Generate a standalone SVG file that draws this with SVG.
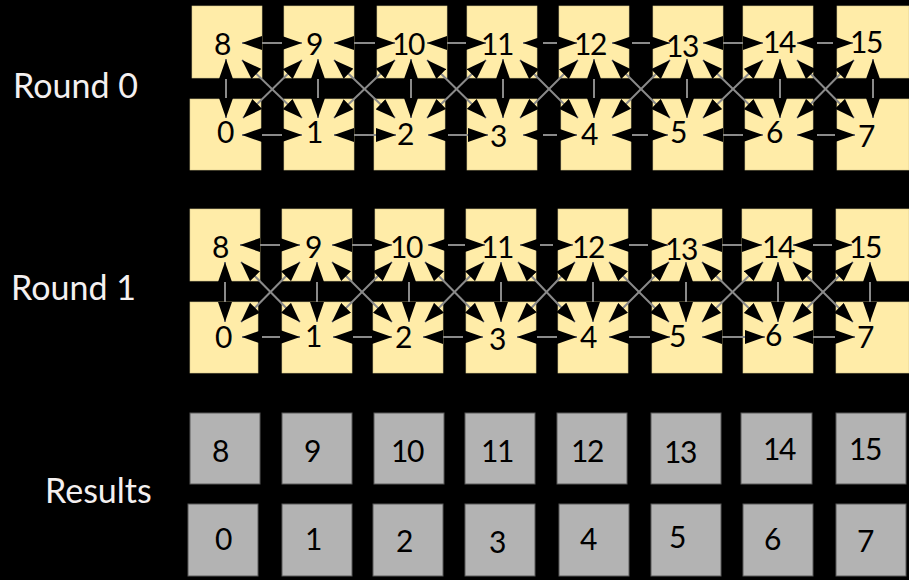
<svg xmlns="http://www.w3.org/2000/svg" width="909" height="580" viewBox="0 0 909 580">
<defs>
<style>
.y{fill:#FFECA8;stroke:#d8c98e;stroke-width:0.6}
.g{fill:#B3B3B3;stroke:#5a5a5a;stroke-width:1}
.n{font-family:Lato,"Liberation Sans",sans-serif;font-size:30px;fill:#000;text-anchor:middle;letter-spacing:-1.5px}
.lab{font-family:Lato,"Liberation Sans",sans-serif;font-size:34px;fill:#F4F0F0}
.c line{stroke:#8a8a8a;stroke-width:2;marker-start:url(#ah);marker-end:url(#ah)}
</style>
<marker id="ah" viewBox="0 0 20 14" refX="20" refY="7" markerWidth="20" markerHeight="14" markerUnits="userSpaceOnUse" orient="auto-start-reverse">
<path d="M0,0 L20,7 L0,14 Z" fill="#000"/>
</marker>
</defs>
<rect width="909" height="580" fill="#000"/>

<g id="labels">
<text class="lab" x="13" y="98">Round 0</text>
<text class="lab" x="11" y="300">Round 1</text>
<text class="lab" x="45" y="503">Results</text>
</g>

<!-- Round 0 -->
<g id="r0-8"><rect class="y" x="192" y="6" width="70" height="72"/><text class="n" x="222" y="55">8</text></g>
<g id="r0-9"><rect class="y" x="284" y="6" width="70" height="72"/><text class="n" x="314" y="55">9</text></g>
<g id="r0-10"><rect class="y" x="377" y="6" width="70" height="72"/><text class="n" x="408" y="55">10</text></g>
<g id="r0-11"><rect class="y" x="467" y="6" width="70" height="72"/><text class="n" x="497" y="55">11</text></g>
<g id="r0-12"><rect class="y" x="559" y="6" width="70" height="72"/><text class="n" x="590" y="55">12</text></g>
<g id="r0-13"><rect class="y" x="653" y="6" width="70" height="72"/><text class="n" x="682" y="57">13</text></g>
<g id="r0-14"><rect class="y" x="743" y="6" width="70" height="72"/><text class="n" x="779" y="53">14</text></g>
<g id="r0-15"><rect class="y" x="837" y="6" width="72" height="72"/><text class="n" x="866" y="53">15</text></g>
<g id="r0-0"><rect class="y" x="190" y="99" width="71" height="71"/><text class="n" x="225" y="143">0</text></g>
<g id="r0-1"><rect class="y" x="284" y="99" width="70" height="71"/><text class="n" x="314" y="143">1</text></g>
<g id="r0-2"><rect class="y" x="374" y="99" width="71" height="71"/><text class="n" x="405" y="145">2</text></g>
<g id="r0-3"><rect class="y" x="467" y="99" width="70" height="71"/><text class="n" x="498" y="147">3</text></g>
<g id="r0-4"><rect class="y" x="561" y="99" width="70" height="71"/><text class="n" x="589" y="145">4</text></g>
<g id="r0-5"><rect class="y" x="653" y="99" width="70" height="71"/><text class="n" x="678" y="143">5</text></g>
<g id="r0-6"><rect class="y" x="745" y="99" width="68" height="71"/><text class="n" x="774" y="143">6</text></g>
<g id="r0-7"><rect class="y" x="837" y="99" width="72" height="71"/><text class="n" x="866" y="147">7</text></g>

<!-- Round 1 -->
<g id="r1-8"><rect class="y" x="190" y="209" width="70" height="72"/><text class="n" x="220" y="258">8</text></g>
<g id="r1-9"><rect class="y" x="282" y="209" width="70" height="72"/><text class="n" x="313" y="258">9</text></g>
<g id="r1-10"><rect class="y" x="375" y="209" width="69" height="72"/><text class="n" x="406" y="258">10</text></g>
<g id="r1-11"><rect class="y" x="466" y="209" width="70" height="72"/><text class="n" x="497" y="258">11</text></g>
<g id="r1-12"><rect class="y" x="558" y="209" width="70" height="72"/><text class="n" x="588" y="258">12</text></g>
<g id="r1-13"><rect class="y" x="652" y="209" width="70" height="72"/><text class="n" x="681" y="260">13</text></g>
<g id="r1-14"><rect class="y" x="742" y="209" width="70" height="72"/><text class="n" x="778" y="258">14</text></g>
<g id="r1-15"><rect class="y" x="836" y="209" width="73" height="72"/><text class="n" x="865" y="258">15</text></g>
<g id="r1-0"><rect class="y" x="190" y="302" width="68" height="71"/><text class="n" x="223" y="348">0</text></g>
<g id="r1-1"><rect class="y" x="282" y="302" width="70" height="71"/><text class="n" x="313" y="347">1</text></g>
<g id="r1-2"><rect class="y" x="373" y="302" width="70" height="71"/><text class="n" x="403" y="348">2</text></g>
<g id="r1-3"><rect class="y" x="466" y="302" width="70" height="71"/><text class="n" x="497" y="350">3</text></g>
<g id="r1-4"><rect class="y" x="558" y="302" width="70" height="71"/><text class="n" x="588" y="348">4</text></g>
<g id="r1-5"><rect class="y" x="652" y="302" width="70" height="71"/><text class="n" x="677" y="347">5</text></g>
<g id="r1-6"><rect class="y" x="743" y="302" width="70" height="71"/><text class="n" x="773" y="346">6</text></g>
<g id="r1-7"><rect class="y" x="836" y="302" width="73" height="71"/><text class="n" x="865" y="348">7</text></g>

<!-- Results -->
<g id="res-8"><rect class="g" x="190" y="413" width="70" height="71"/><text class="n" x="220" y="462">8</text></g>
<g id="res-9"><rect class="g" x="282" y="413" width="70" height="71"/><text class="n" x="312" y="462">9</text></g>
<g id="res-10"><rect class="g" x="374" y="413" width="70" height="71"/><text class="n" x="407" y="462">10</text></g>
<g id="res-11"><rect class="g" x="465" y="413" width="70" height="71"/><text class="n" x="497" y="462">11</text></g>
<g id="res-12"><rect class="g" x="557" y="413" width="70" height="71"/><text class="n" x="587" y="462">12</text></g>
<g id="res-13"><rect class="g" x="651" y="413" width="70" height="71"/><text class="n" x="680" y="463">13</text></g>
<g id="res-14"><rect class="g" x="741" y="413" width="71" height="71"/><text class="n" x="779" y="460">14</text></g>
<g id="res-15"><rect class="g" x="836" y="413" width="70" height="71"/><text class="n" x="865" y="460">15</text></g>
<g id="res-0"><rect class="g" x="188" y="504" width="70" height="72"/><text class="n" x="223" y="550">0</text></g>
<g id="res-1"><rect class="g" x="282" y="504" width="70" height="72"/><text class="n" x="313" y="550">1</text></g>
<g id="res-2"><rect class="g" x="373" y="504" width="70" height="72"/><text class="n" x="404" y="552">2</text></g>
<g id="res-3"><rect class="g" x="465" y="504" width="70" height="72"/><text class="n" x="497" y="553">3</text></g>
<g id="res-4"><rect class="g" x="559" y="504" width="70" height="72"/><text class="n" x="588" y="550">4</text></g>
<g id="res-5"><rect class="g" x="651" y="504" width="70" height="72"/><text class="n" x="677" y="548">5</text></g>
<g id="res-6"><rect class="g" x="743" y="504" width="70" height="72"/><text class="n" x="772" y="550">6</text></g>
<g id="res-7"><rect class="g" x="836" y="504" width="70" height="72"/><text class="n" x="865" y="552">7</text></g>

<g id="connectors" class="c">
<!-- Round 0 horizontals -->
<line x1="242" y1="43" x2="302" y2="43"/><line x1="242" y1="135" x2="302" y2="135"/>
<line x1="334" y1="43" x2="395" y2="43"/><line x1="334" y1="135" x2="396" y2="135"/>
<line x1="427" y1="43" x2="486" y2="43"/><line x1="428" y1="135" x2="488" y2="135"/>
<line x1="523" y1="43" x2="577" y2="43"/><line x1="523" y1="135" x2="577" y2="135"/>
<line x1="612" y1="43" x2="670" y2="43"/><line x1="612" y1="135" x2="668" y2="135"/>
<line x1="703" y1="43" x2="763" y2="43"/><line x1="703" y1="135" x2="763" y2="135"/>
<line x1="797" y1="43" x2="853" y2="43"/><line x1="797" y1="135" x2="855" y2="135"/>
<!-- Round 0 diagonals -->
<line x1="242" y1="60" x2="302" y2="118"/><line x1="302" y1="60" x2="243" y2="118"/>
<line x1="334" y1="60" x2="395" y2="118"/><line x1="395" y1="60" x2="334" y2="118"/>
<line x1="427" y1="60" x2="486" y2="118"/><line x1="486" y1="60" x2="427" y2="118"/>
<line x1="520" y1="60" x2="578" y2="118"/><line x1="578" y1="60" x2="520" y2="118"/>
<line x1="612" y1="60" x2="670" y2="118"/><line x1="670" y1="60" x2="612" y2="118"/>
<line x1="703" y1="60" x2="763" y2="118"/><line x1="763" y1="60" x2="703" y2="118"/>
<line x1="797" y1="60" x2="854" y2="118"/><line x1="854" y1="60" x2="797" y2="118"/>
<!-- Round 0 verticals -->
<line x1="226" y1="59" x2="226" y2="118"/>
<line x1="318" y1="59" x2="318" y2="118"/>
<line x1="411" y1="59" x2="411" y2="118"/>
<line x1="503" y1="59" x2="503" y2="118"/>
<line x1="594" y1="59" x2="594" y2="118"/>
<line x1="687" y1="59" x2="687" y2="118"/>
<line x1="780" y1="59" x2="780" y2="118"/>
<line x1="873" y1="59" x2="873" y2="118"/>
<!-- Round 1 horizontals -->
<line x1="240" y1="245" x2="300" y2="245"/><line x1="242" y1="337" x2="300" y2="337"/>
<line x1="332" y1="245" x2="392" y2="245"/><line x1="333" y1="337" x2="392" y2="337"/>
<line x1="428" y1="245" x2="485" y2="245"/><line x1="423" y1="337" x2="483" y2="337"/>
<line x1="520" y1="245" x2="573" y2="245"/><line x1="517" y1="337" x2="577" y2="337"/>
<line x1="609" y1="245" x2="668" y2="245"/><line x1="609" y1="337" x2="670" y2="337"/>
<line x1="702" y1="245" x2="762" y2="245"/><line x1="702" y1="337" x2="765" y2="337"/>
<line x1="793" y1="245" x2="852" y2="245"/><line x1="793" y1="337" x2="855" y2="337"/>
<!-- Round 1 diagonals -->
<line x1="241" y1="262" x2="300" y2="322"/><line x1="300" y1="262" x2="241" y2="322"/>
<line x1="332" y1="262" x2="392" y2="322"/><line x1="392" y1="262" x2="332" y2="322"/>
<line x1="425" y1="262" x2="484" y2="322"/><line x1="484" y1="262" x2="425" y2="322"/>
<line x1="518" y1="262" x2="575" y2="322"/><line x1="575" y1="262" x2="518" y2="322"/>
<line x1="609" y1="262" x2="669" y2="322"/><line x1="669" y1="262" x2="609" y2="322"/>
<line x1="702" y1="262" x2="763" y2="322"/><line x1="763" y1="262" x2="702" y2="322"/>
<line x1="793" y1="262" x2="853" y2="322"/><line x1="853" y1="262" x2="793" y2="322"/>
<!-- Round 1 verticals -->
<line x1="225" y1="262" x2="225" y2="322"/>
<line x1="317" y1="262" x2="317" y2="322"/>
<line x1="409" y1="262" x2="409" y2="322"/>
<line x1="501" y1="262" x2="501" y2="322"/>
<line x1="593" y1="262" x2="593" y2="322"/>
<line x1="686" y1="262" x2="686" y2="322"/>
<line x1="778" y1="262" x2="778" y2="322"/>
<line x1="870" y1="262" x2="870" y2="322"/>
</g>
</svg>
